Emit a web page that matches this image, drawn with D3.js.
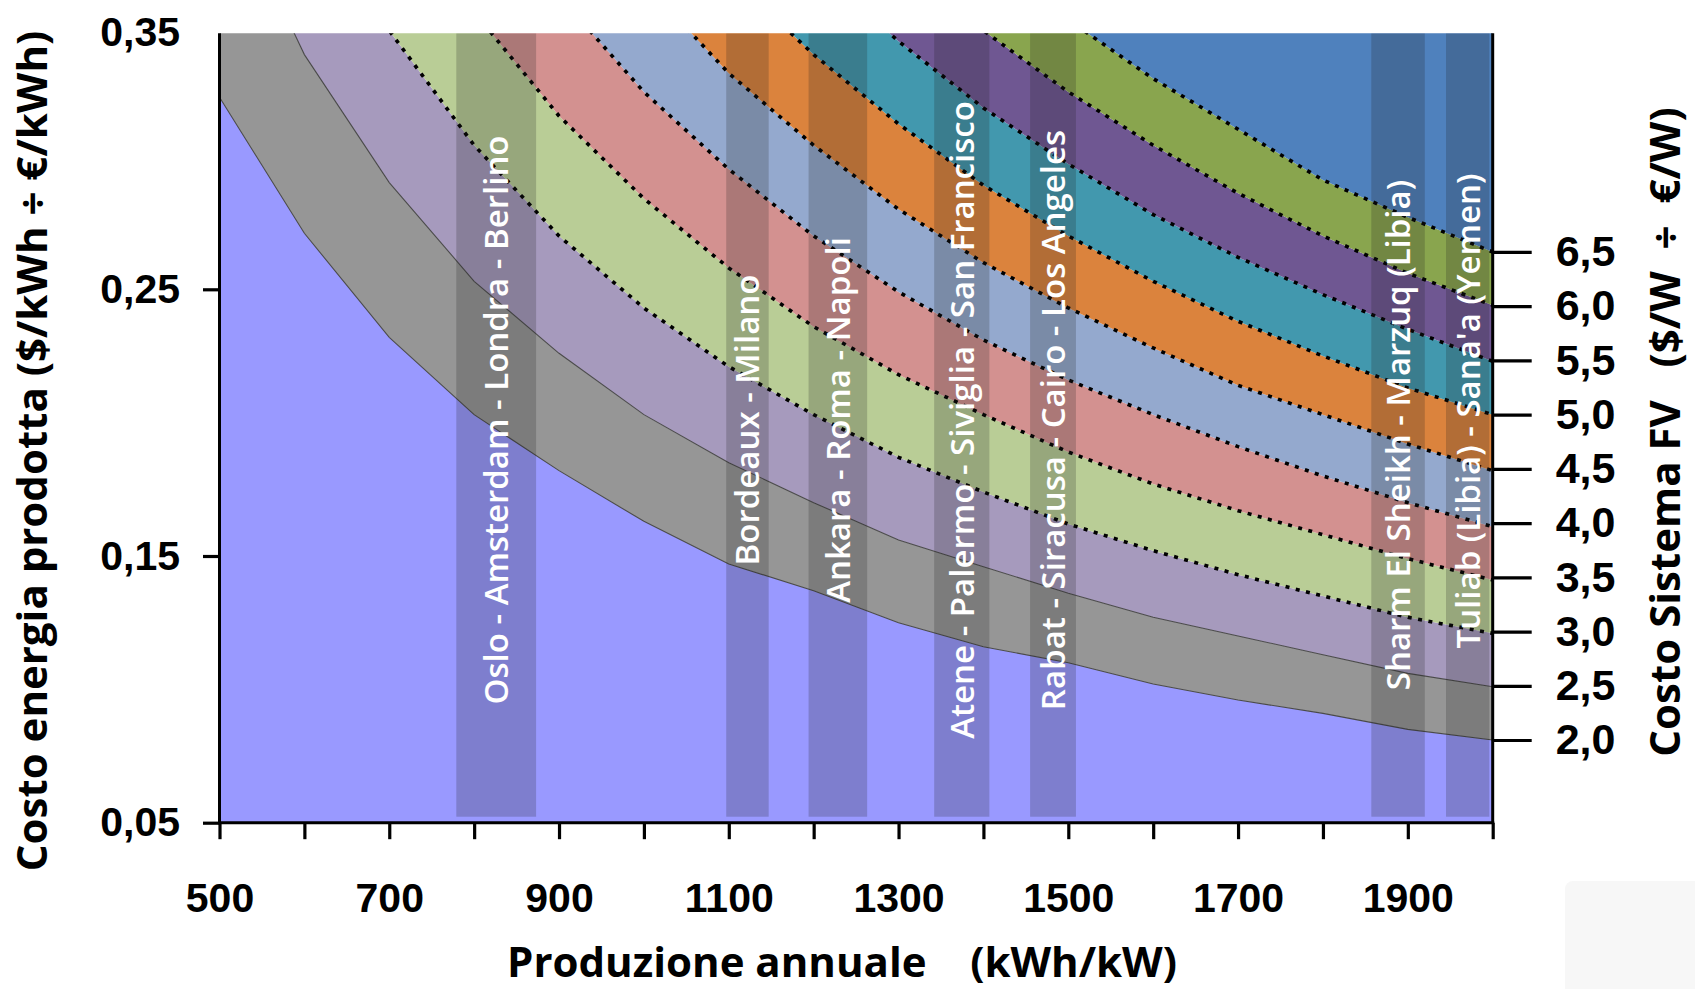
<!doctype html>
<html>
<head>
<meta charset="utf-8">
<script src="https://cdnjs.cloudflare.com/ajax/libs/d3/7.8.5/d3.min.js"></script>
<style>
  body { margin: 0; background: #fff; }
  svg { display: block; font-family: "Open Sans", sans-serif; }
  .axis path.domain { display: none; }
  .axis line { stroke: #000; stroke-width: 3.2; }
  .axis text { font-size: 41px; font-weight: bold; fill: #000; }
  .axis.right text { font-size: 43px; }
  .title { font-size: 42px; font-weight: bold; fill: #000; white-space: pre; }
  .city { font-size: 33px; font-weight: 600; fill: #fff; }
</style>
</head>
<body>
<svg id="chart" width="1695" height="989"></svg>
<script>
// annual production (kWh/kW)
var production = [500, 600, 700, 800, 900, 1000, 1100, 1200, 1300, 1400, 1500, 1600, 1700, 1800, 1900, 2000];
// system cost ($/W), one curve each
var systemCost = [2.0, 2.5, 3.0, 3.5, 4.0, 4.5, 5.0, 5.5, 6.0, 6.5];

// energy cost ($/kWh) per system cost
var cost20 = [0.322, 0.271, 0.232, 0.203, 0.182, 0.163, 0.147, 0.137, 0.125, 0.116, 0.110, 0.102, 0.096, 0.091, 0.085, 0.081];
var cost25 = [0.405, 0.338, 0.290, 0.253, 0.226, 0.203, 0.185, 0.170, 0.156, 0.146, 0.136, 0.127, 0.120, 0.113, 0.106, 0.101];
var cost30 = [0.486, 0.405, 0.347, 0.304, 0.270, 0.243, 0.221, 0.203, 0.187, 0.174, 0.162, 0.152, 0.143, 0.135, 0.127, 0.121];
var cost35 = [0.567, 0.473, 0.405, 0.354, 0.315, 0.284, 0.258, 0.236, 0.218, 0.203, 0.189, 0.177, 0.167, 0.158, 0.149, 0.141];
var cost40 = [0.648, 0.540, 0.463, 0.405, 0.360, 0.324, 0.295, 0.270, 0.249, 0.231, 0.216, 0.203, 0.191, 0.180, 0.170, 0.161];
var cost45 = [0.729, 0.608, 0.521, 0.456, 0.405, 0.365, 0.331, 0.304, 0.280, 0.260, 0.243, 0.228, 0.214, 0.203, 0.192, 0.182];
var cost50 = [0.810, 0.675, 0.579, 0.506, 0.450, 0.405, 0.368, 0.338, 0.312, 0.289, 0.270, 0.253, 0.238, 0.225, 0.213, 0.203];
var cost55 = [0.891, 0.743, 0.636, 0.557, 0.495, 0.446, 0.405, 0.371, 0.343, 0.318, 0.297, 0.278, 0.262, 0.248, 0.235, 0.223];
var cost60 = [0.972, 0.810, 0.694, 0.608, 0.540, 0.486, 0.442, 0.405, 0.374, 0.347, 0.324, 0.304, 0.286, 0.270, 0.256, 0.244];
var cost65 = [1.053, 0.878, 0.752, 0.658, 0.585, 0.527, 0.479, 0.439, 0.405, 0.376, 0.351, 0.329, 0.310, 0.291, 0.277, 0.264];

// cities and their production range (kWh/kW)
var cityNames = ["Oslo - Amsterdam - Londra - Berlino", "Bordeaux - Milano", "Ankara - Roma - Napoli",
  "Atene - Palermo - Siviglia - San Francisco", "Rabat - Siracusa - Cairo - Los Angeles",
  "Sharm El Sheikh - Marzuq (Libia)", "Tuliab (Libia) - Sana'a (Yemen)"];
var cityFrom = [779, 1097, 1194, 1342, 1455, 1857, 1945];
var cityTo = [873, 1147, 1263, 1407, 1509, 1920, 1996];

var xTickValues = [500, 600, 700, 800, 900, 1000, 1100, 1200, 1300, 1400, 1500, 1600, 1700, 1800, 1900, 2000];
var xLabelValues = [500, 700, 900, 1100, 1300, 1500, 1700, 1900];
var yTickValues = [0.05, 0.15, 0.25, 0.35];

var curves = [cost20, cost25, cost30, cost35, cost40, cost45, cost50, cost55, cost60, cost65];
var bandColors = ["#9999ff", "#969696", "#a69abd", "#b9cd96", "#d39190", "#94a9ce",
  "#db833d", "#4298ae", "#6f5792", "#89a54e", "#4f81bd"];

var plotLeft = 219.5, plotRight = 1492.7, plotTop = 33.3, plotBottom = 822.7;

var xScale = d3.scaleLinear().domain([500, 2000]).range([plotLeft, plotRight]);
var yScale = d3.scaleLinear().domain([0.05, 0.35]).range([plotBottom, 22.6]);

var itLocale = d3.formatLocale({decimal: ",", thousands: ".", grouping: [3], currency: ["", "€"]});

var svg = d3.select("#chart");

svg.append("rect").attr("x", 1565).attr("y", 881).attr("width", 140).attr("height", 120)
  .attr("rx", 8).attr("fill", "#f7f7f7");

svg.append("clipPath").attr("id", "plotClip")
  .append("rect")
    .attr("x", plotLeft).attr("y", plotTop)
    .attr("width", plotRight - plotLeft).attr("height", plotBottom - plotTop);

var plot = svg.append("g").attr("clip-path", "url(#plotClip)");

// bands between consecutive curves
var floorLine = production.map(() => 0.05);
var ceilLine = production.map(() => 1.2);
var boundaries = [floorLine].concat(curves).concat([ceilLine]);
var idx = d3.range(production.length);

bandColors.forEach(function(color, b) {
  var area = d3.area()
    .x(i => xScale(production[i]))
    .y0(i => yScale(boundaries[b][i]))
    .y1(i => yScale(boundaries[b + 1][i]));
  plot.append("path")
    .attr("d", area(idx))
    .attr("fill", color);
});

curves.forEach(function(curve, c) {
  var line = d3.line()
    .x(i => xScale(production[i]))
    .y(i => yScale(curve[i]));
  var p = plot.append("path")
    .attr("d", line(idx))
    .attr("fill", "none");
  if (systemCost[c] < 3) {
    p.attr("stroke", "#4a4a4a").attr("stroke-width", 1.1);
  } else {
    p.attr("stroke", "#000").attr("stroke-width", 3.6).attr("stroke-dasharray", "4,6.5");
  }
});

// city bands
var bandBottom = 816.7;
cityNames.forEach(function(name, k) {
  var x0 = xScale(cityFrom[k]), x1 = xScale(cityTo[k]);
  plot.append("rect")
    .attr("x", x0).attr("y", plotTop)
    .attr("width", x1 - x0).attr("height", bandBottom - plotTop)
    .attr("fill", "#202020").attr("fill-opacity", 0.22);
});

var labelShift = [0, 0, 0, 0, 0, 15, -9];
cityNames.forEach(function(name, k) {
  var cx = xScale((cityFrom[k] + cityTo[k]) / 2);
  svg.append("text")
    .attr("class", "city")
    .attr("transform", "translate(" + cx + "," + (420 + labelShift[k]) + ") rotate(-90)")
    .attr("text-anchor", "middle")
    .attr("dy", "0.36em")
    .text(name);
});

// frame lines
svg.append("line").attr("x1", plotLeft).attr("x2", plotLeft).attr("y1", plotTop).attr("y2", plotBottom + 1.5)
  .attr("stroke", "#000").attr("stroke-width", 3);
svg.append("line").attr("x1", plotLeft - 1.5).attr("x2", plotRight + 1.5).attr("y1", plotBottom).attr("y2", plotBottom)
  .attr("stroke", "#000").attr("stroke-width", 3);
svg.append("line").attr("x1", plotRight).attr("x2", plotRight).attr("y1", plotTop).attr("y2", plotBottom)
  .attr("stroke", "#000").attr("stroke-width", 3);

// x axis
var xAxis = d3.axisBottom(xScale)
  .tickValues(xTickValues)
  .tickSize(16.5)
  .tickPadding(44)
  .tickFormat(d => xLabelValues.indexOf(d) >= 0 ? d3.format("d")(d) : "");
svg.append("g").attr("class", "axis").attr("transform", "translate(0," + plotBottom + ")").call(xAxis);

// left axis
var yAxis = d3.axisLeft(yScale)
  .tickValues(yTickValues)
  .tickSize(16.5)
  .tickPadding(23)
  .tickFormat(itLocale.format(".2f"));
var yG = svg.append("g").attr("class", "axis").attr("transform", "translate(" + plotLeft + ",0)").call(yAxis);
yG.selectAll(".tick").filter(d => d === 0.35).select("line").remove();
yG.selectAll(".tick").filter(d => d === 0.35).select("text").attr("dy", "0.55em");

// right axis: system cost where each curve ends
var last = production.length - 1;
var rightScale = d3.scaleLinear()
  .domain([systemCost[0], systemCost[systemCost.length - 1]])
  .range([yScale(cost20[last]), yScale(cost65[last])]);
var rAxis = d3.axisRight(rightScale)
  .tickValues(systemCost)
  .tickSize(39)
  .tickPadding(24)
  .tickFormat(itLocale.format(".1f"));
svg.append("g").attr("class", "axis right").attr("transform", "translate(" + plotRight + ",0)").call(rAxis);

// titles
svg.append("text").attr("class", "title")
  .attr("x", 842).attr("y", 962).attr("dy", "0.36em").attr("text-anchor", "middle")
  .text("Produzione annuale    (kWh/kW)");
svg.append("text").attr("class", "title")
  .attr("transform", "translate(32,451) rotate(-90)").attr("dy", "0.36em").attr("text-anchor", "middle")
  .text("Costo energia prodotta ($/kWh ÷ €/kWh)");
svg.append("text").attr("class", "title")
  .attr("transform", "translate(1665,432) rotate(-90)").attr("dy", "0.36em").attr("text-anchor", "middle")
  .text("Costo Sistema FV   ($/W  ÷  €/W)");
</script>
</body>
</html>
